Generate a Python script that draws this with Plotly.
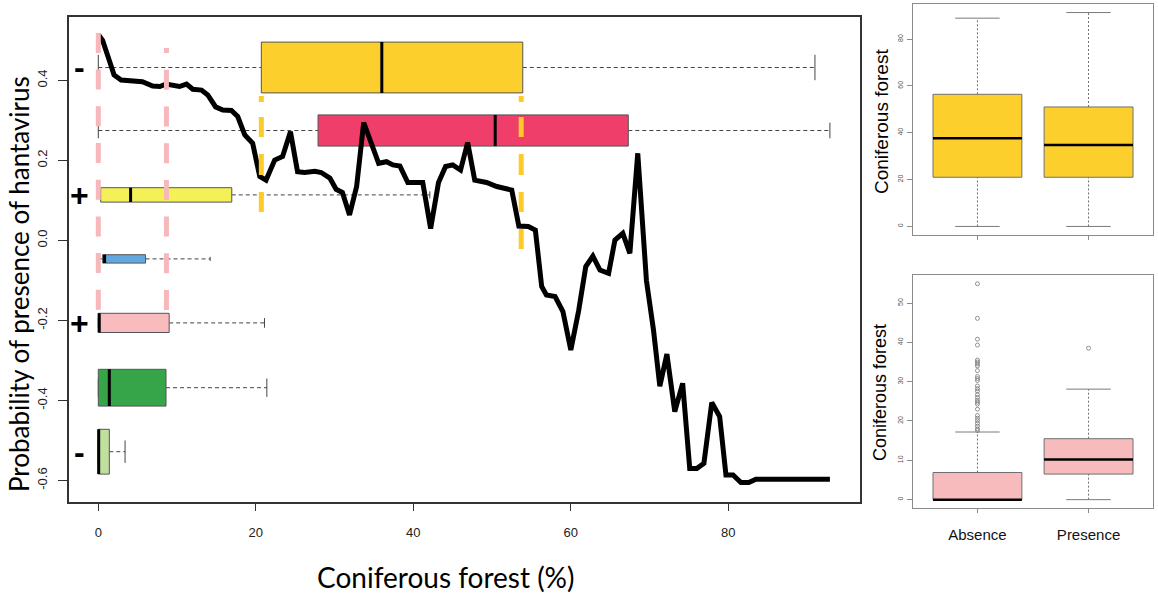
import plotly.graph_objects as go

W, H = 1158, 597

# ---------------- Main panel: response curve ----------------
conif_pct = [0, 0.55, 1.4, 2.0, 2.9, 4.2, 5.6, 6.9, 7.8, 8.6, 9.4, 10.3, 11.2, 12.0, 13.1,
             13.9, 14.9, 15.8, 16.9, 17.7, 18.6, 19.6, 20.5, 21.3, 22.4, 23.4, 24.4, 25.3,
             26.2, 27.5, 28.3, 29.4, 30.2, 31.0, 31.9, 32.8, 33.7, 34.7, 35.6, 36.6, 37.4,
             38.3, 39.3, 41.2, 42.2, 43.2, 44.1, 45.0, 46.0, 46.9, 47.8, 49.3, 50.6, 52.5,
             53.4, 54.6, 55.5, 56.3, 56.9, 58.0, 59.0, 60.0, 61.0, 61.9, 62.8, 63.7, 64.8,
             65.6, 66.6, 67.5, 68.5, 69.6, 70.5, 71.3, 72.2, 73.2, 74.2, 75.1, 76.0, 76.9,
             77.9, 78.9, 79.7, 80.6, 81.6, 82.6, 83.5, 92.9]
prob_presence = [0.515, 0.50, 0.45, 0.414, 0.401, 0.400, 0.397, 0.386, 0.385, 0.391, 0.389,
                 0.385, 0.391, 0.378, 0.376, 0.364, 0.334, 0.326, 0.325, 0.310, 0.264, 0.243,
                 0.160, 0.151, 0.201, 0.210, 0.272, 0.172, 0.170, 0.173, 0.170, 0.156, 0.128,
                 0.120, 0.064, 0.135, 0.295, 0.243, 0.193, 0.197, 0.189, 0.186, 0.145, 0.145,
                 0.030, 0.145, 0.185, 0.189, 0.176, 0.245, 0.151, 0.145, 0.135, 0.126, 0.036,
                 0.035, 0.026, -0.115, -0.136, -0.140, -0.178, -0.274, -0.175, -0.065, -0.039,
                 -0.074, -0.082, 0.001, 0.018, -0.032, 0.218, -0.100, -0.224, -0.364, -0.284,
                 -0.428, -0.357, -0.570, -0.570, -0.557, -0.405, -0.440, -0.586, -0.586,
                 -0.605, -0.605, -0.597, -0.597]

# ---------------- Main panel: class boxplots of coniferous forest (%) ----------------
class_q1 = [20.7, 27.9, 0.3, 0.55, 0.0, 0.0, 0.0]
class_med = [36.0, 50.4, 4.1, 0.8, 0.12, 1.4, 0.05]
class_q3 = [53.9, 67.3, 16.95, 6.0, 9.0, 8.6, 1.4]
class_lo = [0.0, 0.0, 0.3, 0.0, 0.0, 0.0, 0.0]
class_hi = [91.0, 92.9, 42.1, 14.2, 21.1, 21.4, 3.4]
class_sign = ["-", "", "+", "", "+", "", "-"]

# reference dashed marks (coniferous %)
pink_marks = [0.0, 8.65]
gold_marks = [20.7, 53.7]

# ---------------- Right panels ----------------
groups = ["Absence", "Presence"]
top_q1 = [21.0, 21.0]
top_med = [37.6, 34.8]
top_q3 = [56.4, 51.0]
top_lo = [0.0, 0.0]
top_hi = [88.9, 91.3]

bot_q1 = [0.0, 6.5]
bot_med = [0.0, 10.2]
bot_q3 = [6.9, 15.5]
bot_lo = [0.0, 0.0]
bot_hi = [17.2, 28.1]
absence_outliers = [54.9, 46.1, 40.8, 39.3, 35.5, 35.0, 34.5, 34.0, 32.8, 31.3, 30.8, 30.3,
                    28.9, 28.2, 27.6, 26.7, 26.0, 25.3, 24.8, 24.3, 23.0, 21.4, 20.7, 20.1,
                    19.4, 18.7, 18.0, 17.6]
presence_outliers = [38.5]

# ---------------- styles / placement ----------------
class_ypos = [0.4325, 0.275, 0.114, -0.046, -0.206, -0.368, -0.528]
class_height = [0.127, 0.078, 0.036, 0.021, 0.048, 0.092, 0.112]
class_colors = ["#FCCF2C", "#EF3E6A", "#F3F157", "#62A8DE", "#F8BCBE", "#36A449", "#C1E09F"]
pink_top = [0.519, 0.481]
pink_bottom = -0.181
pink_dash = ["20px,16.7px",
             "5px,16.7px" + ",20px,16.7px" * 8]
gold_top = 0.361
gold_bottom = [0.069, -0.024]
gold_dash = "6px,15px,20px,17px,21px,17px,20px,17px,20px,17px,20px,100px"

PINK_LINE = "#F6B8BB"
GOLD_LINE = "#FCCB2A"
TICKFONT = "Liberation Sans, Arial, sans-serif"
TITLEFONT = "Lato, Calibri, sans-serif"

fig = go.Figure()
shapes = []

# main boxes (horizontal)
for i in range(len(class_q1)):
    yc, h = class_ypos[i], class_height[i]
    q1, md, q3, lo, hi = class_q1[i], class_med[i], class_q3[i], class_lo[i], class_hi[i]
    wl = dict(color="#444444", width=1, dash="4px,3px")
    sl = dict(color="#444444", width=1)
    if q1 > lo:
        shapes.append(dict(type="line", xref="x", yref="y", x0=lo, x1=q1, y0=yc, y1=yc, line=wl, layer="below"))
    shapes.append(dict(type="line", xref="x", yref="y", x0=q3, x1=hi, y0=yc, y1=yc, line=wl, layer="below"))
    shapes.append(dict(type="line", xref="x", yref="y", x0=lo, x1=lo, y0=yc - h / 4, y1=yc + h / 4, line=sl, layer="below"))
    shapes.append(dict(type="line", xref="x", yref="y", x0=hi, x1=hi, y0=yc - h / 4, y1=yc + h / 4, line=sl, layer="below"))
    shapes.append(dict(type="rect", xref="x", yref="y", x0=q1, x1=q3, y0=yc - h / 2, y1=yc + h / 2,
                       fillcolor=class_colors[i], line=dict(color="#555555", width=1), layer="below"))
    shapes.append(dict(type="line", xref="x", yref="y", x0=md, x1=md, y0=yc - h / 2, y1=yc + h / 2,
                       line=dict(color="black", width=3), layer="below"))

# dashed reference lines
for j, xv in enumerate(pink_marks):
    shapes.append(dict(type="line", xref="x", yref="y", x0=xv, x1=xv, y0=pink_top[j], y1=pink_bottom,
                       line=dict(color=PINK_LINE, width=5, dash=pink_dash[j]), layer="above"))
for j, xv in enumerate(gold_marks):
    shapes.append(dict(type="line", xref="x", yref="y", x0=xv, x1=xv, y0=gold_top, y1=gold_bottom[j],
                       line=dict(color=GOLD_LINE, width=5, dash=gold_dash), layer="above"))


def vbox(xr, yr, q1s, meds, q3s, los, his, color):
    for k in range(len(q1s)):
        xc = k + 1
        wl = dict(color="#6e6e6e", width=1, dash="2px,2px")
        sl = dict(color="#7a7a7a", width=1)
        if q1s[k] > los[k]:
            shapes.append(dict(type="line", xref=xr, yref=yr, x0=xc, x1=xc, y0=los[k], y1=q1s[k], line=wl, layer="below"))
        shapes.append(dict(type="line", xref=xr, yref=yr, x0=xc, x1=xc, y0=q3s[k], y1=his[k], line=wl, layer="below"))
        shapes.append(dict(type="line", xref=xr, yref=yr, x0=xc - 0.2, x1=xc + 0.2, y0=los[k], y1=los[k], line=sl, layer="below"))
        shapes.append(dict(type="line", xref=xr, yref=yr, x0=xc - 0.2, x1=xc + 0.2, y0=his[k], y1=his[k], line=sl, layer="below"))
        shapes.append(dict(type="rect", xref=xr, yref=yr, x0=xc - 0.4, x1=xc + 0.4, y0=q1s[k], y1=q3s[k],
                           fillcolor=color, line=dict(color="#707070", width=1), layer="below"))
        shapes.append(dict(type="line", xref=xr, yref=yr, x0=xc - 0.4, x1=xc + 0.4, y0=meds[k], y1=meds[k],
                           line=dict(color="black", width=2.5), layer="below"))


vbox("x2", "y2", top_q1, top_med, top_q3, top_lo, top_hi, "#FCCF2C")
vbox("x3", "y3", bot_q1, bot_med, bot_q3, bot_lo, bot_hi, "#F8BBBD")

# curve
fig.add_trace(go.Scatter(x=conif_pct, y=prob_presence, mode="lines",
                         line=dict(color="black", width=5), xaxis="x", yaxis="y",
                         hoverinfo="skip"))
# outliers
fig.add_trace(go.Scatter(x=[1] * len(absence_outliers) + [2] * len(presence_outliers),
                         y=absence_outliers + presence_outliers, mode="markers",
                         marker=dict(symbol="circle-open", size=4, color="#777777", line=dict(width=0.8)),
                         xaxis="x3", yaxis="y3", hoverinfo="skip"))

annotations = []
for i, s in enumerate(class_sign):
    if s:
        annotations.append(dict(xref="x", yref="y", x=-2.35, y=class_ypos[i], text="<b>%s</b>" % s,
                                showarrow=False, font=dict(family="Liberation Sans, Arial", size=32, color="black"),
                                xanchor="center", yanchor="middle"))
annotations.append(dict(xref="paper", yref="paper", x=445.6 / W, y=1 - 577 / H, text="Coniferous forest (%)",
                        showarrow=False, font=dict(family=TITLEFONT, size=28, color="black"),
                        xanchor="center", yanchor="middle"))
annotations.append(dict(xref="paper", yref="paper", x=19 / W, y=1 - 284 / H,
                        text="Probability of presence of hantavirus", textangle=-90,
                        showarrow=False, font=dict(family=TITLEFONT, size=26, color="black"),
                        xanchor="center", yanchor="middle"))
annotations.append(dict(xref="paper", yref="paper", x=882 / W, y=1 - 122 / H, text="Coniferous forest",
                        textangle=-90, showarrow=False, font=dict(family=TICKFONT, size=19, color="black"),
                        xanchor="center", yanchor="middle"))
annotations.append(dict(xref="paper", yref="paper", x=880 / W, y=1 - 393 / H, text="Coniferous forest",
                        textangle=-90, showarrow=False, font=dict(family=TICKFONT, size=18, color="black"),
                        xanchor="center", yanchor="middle"))

main_ax = dict(showline=True, mirror=True, linecolor="#333333", linewidth=1.5, showgrid=False,
               zeroline=False, ticks="outside", tickcolor="#333333", tickwidth=1.2,
               tickfont=dict(family=TICKFONT, size=13, color="#222222"))
side_ax = dict(showline=True, mirror=True, linecolor="#8a8a8a", linewidth=1.2, showgrid=False,
               zeroline=False, ticks="outside", tickcolor="#8a8a8a", tickwidth=1)

fig.update_layout(
    width=W, height=H, margin=dict(l=0, r=0, t=0, b=0),
    paper_bgcolor="white", plot_bgcolor="white", showlegend=False,
    shapes=shapes, annotations=annotations,
    xaxis=dict(main_ax, domain=[69 / W, 860 / W], range=[-3.72, 96.72], anchor="y",
               tickvals=[0, 20, 40, 60, 80], ticklen=8, ticklabelstandoff=10),
    yaxis=dict(main_ax, domain=[1 - 501.5 / H, 1 - 16.5 / H], range=[-0.6525, 0.56], anchor="x",
               tickvals=[-0.6, -0.4, -0.2, 0.0, 0.2, 0.4],
               ticktext=["-0.6", "-0.4", "-0.2", "0.0", "0.2", "0.4"],
               tickangle=-90, ticklen=9, ticklabelstandoff=6),
    xaxis2=dict(side_ax, domain=[913 / W, 1153 / W], range=[0.42, 2.58], anchor="y2",
                tickvals=[1, 2], showticklabels=False, ticklen=4),
    yaxis2=dict(side_ax, domain=[1 - 235 / H, 1 - 4 / H], range=[-3.65, 94.95], anchor="x2",
                tickvals=[0, 20, 40, 60, 80], tickangle=-90, ticklen=5, ticklabelstandoff=1,
                tickfont=dict(family=TICKFONT, size=7, color="#555555")),
    xaxis3=dict(side_ax, domain=[913 / W, 1153 / W], range=[0.42, 2.58], anchor="y3",
                tickvals=[1, 2], ticktext=groups, ticklen=4, ticklabelstandoff=9,
                tickfont=dict(family=TICKFONT, size=15, color="#111111")),
    yaxis3=dict(side_ax, domain=[1 - 508.3 / H, 1 - 274.7 / H], range=[-2.2, 57.2], anchor="x3",
                tickvals=[0, 10, 20, 30, 40, 50], tickangle=-90, ticklen=5, ticklabelstandoff=1,
                tickfont=dict(family=TICKFONT, size=7, color="#555555")),
)

fig.write_html("out.html", config={"displayModeBar": False},
               post_script="document.body.style.margin='0';document.body.style.overflow='hidden';")
